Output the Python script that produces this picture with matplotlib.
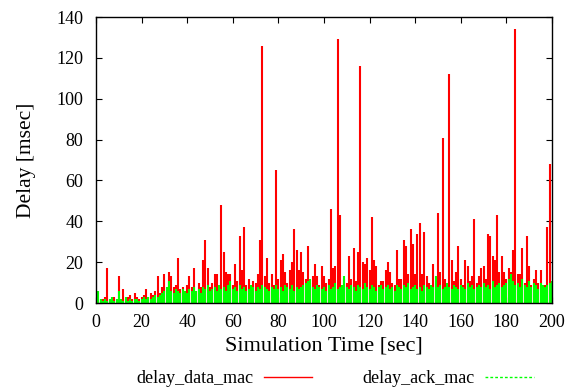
import numpy as np
import matplotlib
matplotlib.use("Agg")
import matplotlib.pyplot as plt
from matplotlib.lines import Line2D

plt.rcParams['font.family'] = ['Liberation Serif', 'DejaVu Serif']

# per-second peak delay [msec], t = 0 .. 200
time_sec = list(range(201))

delay_data_mac = [
    1, 2, 1, 2, 3, 17, 2, 1, 3, 2,
    13, 2, 7, 2, 3, 4, 2, 5, 3, 2,
    3, 4, 7, 3, 5, 4, 6, 13, 5, 8,
    14, 6, 15, 13, 8, 9, 22, 7, 8, 6,
    9, 13, 8, 17, 6, 10, 8, 21, 31, 17,
    8, 10, 14, 14, 9, 48, 25, 15, 14, 14,
    9, 19, 11, 33, 16, 37, 9, 12, 8, 11,
    10, 14, 31, 126, 13, 22, 10, 14, 9, 65,
    12, 21, 24, 15, 10, 16, 20, 36, 26, 16,
    25, 15, 12, 28, 10, 13, 19, 13, 9, 18,
    13, 10, 12, 46, 17, 18, 129, 43, 8, 12,
    10, 23, 12, 27, 11, 25, 116, 20, 19, 22,
    16, 42, 21, 18, 9, 11, 11, 16, 20, 15,
    10, 9, 26, 12, 12, 31, 28, 14, 36, 29,
    14, 34, 39, 14, 35, 13, 10, 9, 19, 11,
    44, 15, 81, 12, 10, 112, 21, 11, 15, 28,
    12, 9, 21, 18, 11, 13, 41, 10, 13, 17,
    18, 12, 34, 33, 23, 21, 43, 15, 23, 15,
    12, 17, 15, 26, 134, 14, 14, 27, 10, 33,
    18, 9, 12, 16, 10, 16, 8, 9, 37, 68,
    9,
]

delay_ack_mac = [
    1, 6, 2, 1, 2, 1, 2, 3, 1, 2,
    6, 2, 1, 3, 1, 2, 1, 2, 2, 1,
    2, 3, 2, 3, 2, 3, 4, 3, 4, 5,
    6, 8, 11, 6, 5, 7, 6, 5, 7, 6,
    5, 7, 6, 8, 6, 7, 5, 8, 7, 9,
    6, 7, 8, 6, 9, 7, 8, 6, 9, 11,
    7, 8, 6, 9, 7, 8, 6, 7, 9, 8,
    6, 8, 7, 9, 8, 7, 6, 8, 7, 9,
    7, 8, 6, 9, 8, 7, 9, 6, 8, 7,
    8, 9, 10, 11, 12, 8, 7, 9, 8, 7,
    8, 6, 9, 7, 8, 10, 7, 8, 9, 13,
    8, 7, 9, 8, 6, 9, 8, 7, 10, 8,
    7, 9, 8, 6, 8, 9, 7, 8, 9, 7,
    8, 6, 9, 8, 7, 9, 8, 10, 7, 8,
    9, 7, 8, 6, 9, 8, 7, 9, 8, 13,
    8, 9, 7, 8, 10, 8, 7, 9, 8, 7,
    9, 8, 7, 10, 8, 9, 7, 8, 9, 8,
    10, 8, 9, 7, 11, 8, 9, 10, 8, 9,
    10, 12, 14, 11, 9, 10, 8, 12, 9, 8,
    11, 8, 10, 9, 7, 10, 9, 8, 9, 10,
    11,
]

x_ticks = list(range(0, 201, 20))
y_ticks = list(range(0, 141, 20))

red = '#ff0000'
green = '#00ff00'

fig = plt.figure(figsize=(5.69, 3.92), dpi=100)
ax = fig.add_axes([0.1687, 0.227, 0.8013, 0.7296])

# spikes drawn as thin vertical lines, like the dense trace of the original
ax.vlines(time_sec, 0, delay_data_mac, colors=red, linewidth=1.5)
ax.vlines(time_sec, 0, delay_ack_mac, colors=green, linewidth=1.5)

ax.set_xlim(0, 200)
ax.set_ylim(0, 140)
ax.set_xticks(x_ticks)
ax.set_yticks(y_ticks)
ax.tick_params(direction='in', length=4, top=True, right=True, labelsize=13)
ax.tick_params(axis='y', pad=9)
ax.tick_params(axis='x', pad=8)
for s in ax.spines.values():
    s.set_linewidth(1.0)

ax.set_xlabel('Simulation Time [sec]', fontsize=16, labelpad=4)
ax.set_ylabel('Delay [msec]', fontsize=15.5, labelpad=15)

handles = [Line2D([], [], color=red, linewidth=1),
           Line2D([], [], color=green, linewidth=1, linestyle=(0, (2, 1.5)))]
fig.legend(handles, ['delay_data_mac', 'delay_ack_mac'], loc='center',
           bbox_to_anchor=(0.589, 0.034), ncol=2, frameon=False,
           markerfirst=False, fontsize=13, handlelength=2.7,
           handletextpad=0.55, columnspacing=2.8)

fig.savefig('out.png', dpi=100)
